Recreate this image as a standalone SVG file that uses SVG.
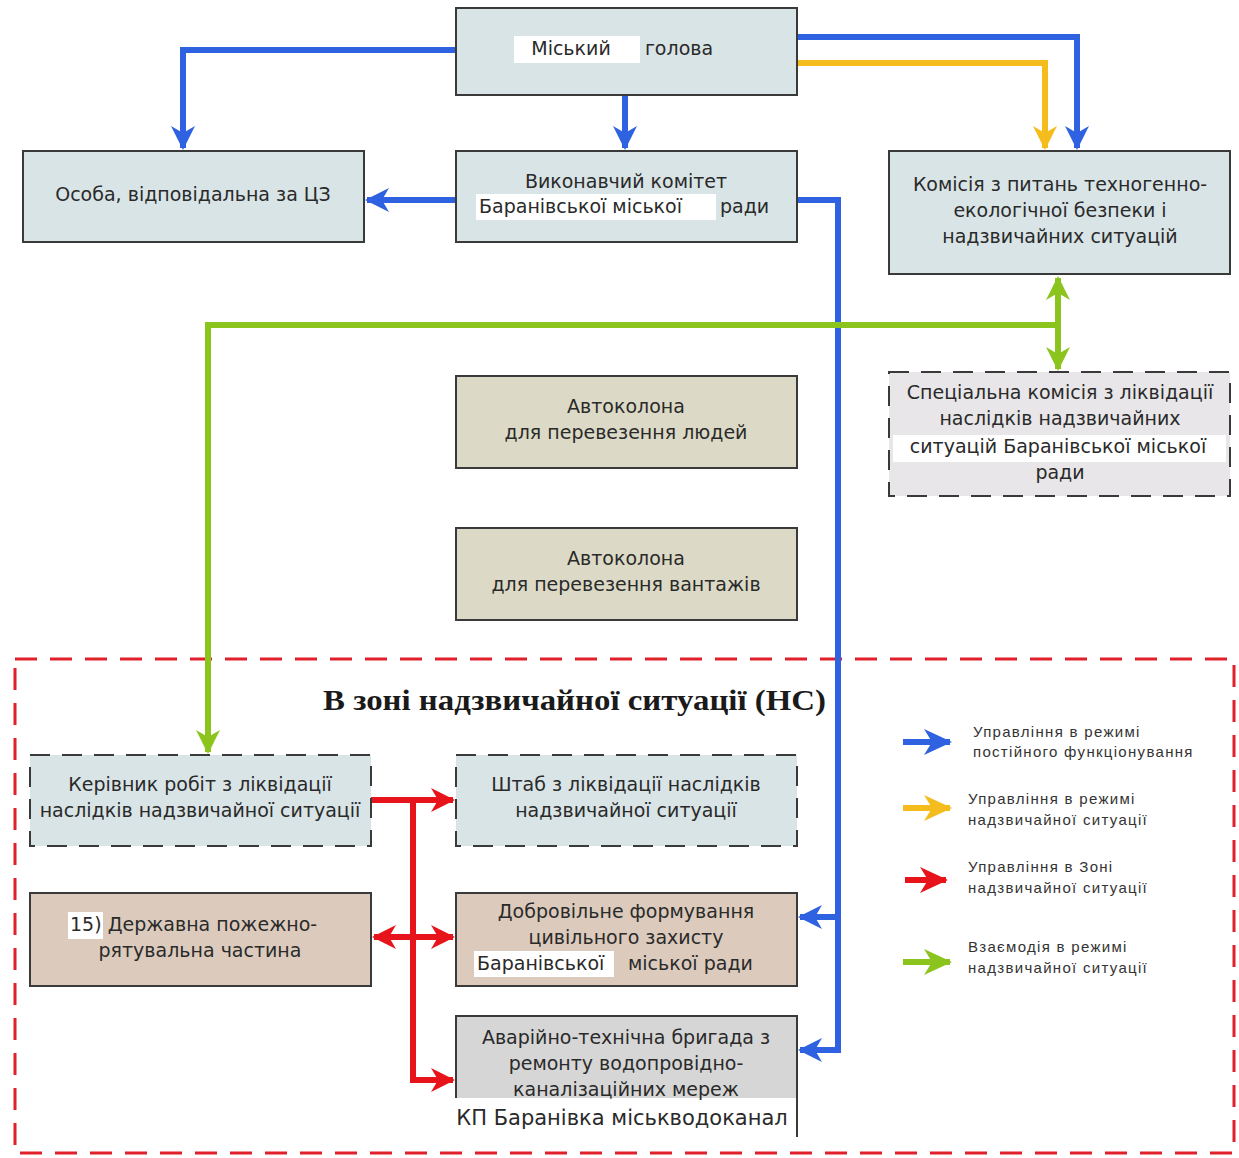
<svg xmlns="http://www.w3.org/2000/svg" width="1239" height="1158" viewBox="0 0 1239 1158">
<style>
.box{stroke:#3a3a3a;stroke-width:2}
.blue{fill:#d9e4e6}
.khaki{fill:#dcdac6}
.tan{fill:#dccabd}
.grey{fill:#d6d6d6}
.dash{stroke-dasharray:20 12}
.t{font-family:"DejaVu Sans","Liberation Sans",sans-serif;font-size:19px;fill:#2a2a2a;text-anchor:middle}
.lg{font-family:"Liberation Sans",sans-serif;font-size:15px;letter-spacing:1.3px;fill:#333}
.ln{fill:none;stroke-width:6}
.b{stroke:#2f62e0}
.y{stroke:#f4bc1c}
.r{stroke:#e8141c}
.g{stroke:#8cc41e}
.hl{fill:#ffffff}
</style>
<defs>
<marker id="ab" markerUnits="userSpaceOnUse" markerWidth="26" markerHeight="26" refX="22" refY="13" orient="auto"><path d="M0,1 L24,13 L0,25 L7,13 Z" fill="#2f62e0"/></marker>
<marker id="ay" markerUnits="userSpaceOnUse" markerWidth="26" markerHeight="26" refX="22" refY="13" orient="auto"><path d="M0,1 L24,13 L0,25 L7,13 Z" fill="#f4bc1c"/></marker>
<marker id="ar" markerUnits="userSpaceOnUse" markerWidth="26" markerHeight="26" refX="22" refY="13" orient="auto"><path d="M0,1 L24,13 L0,25 L7,13 Z" fill="#e8141c"/></marker>
<marker id="ars" markerUnits="userSpaceOnUse" markerWidth="26" markerHeight="26" refX="22" refY="13" orient="auto-start-reverse"><path d="M0,1 L24,13 L0,25 L7,13 Z" fill="#e8141c"/></marker>
<marker id="ag" markerUnits="userSpaceOnUse" markerWidth="26" markerHeight="26" refX="22" refY="13" orient="auto"><path d="M0,1 L24,13 L0,25 L7,13 Z" fill="#8cc41e"/></marker>
<marker id="ags" markerUnits="userSpaceOnUse" markerWidth="26" markerHeight="26" refX="22" refY="13" orient="auto-start-reverse"><path d="M0,1 L24,13 L0,25 L7,13 Z" fill="#8cc41e"/></marker>
<marker id="lb" markerUnits="userSpaceOnUse" markerWidth="30" markerHeight="30" refX="26" refY="15" orient="auto"><path d="M0,2 L28,15 L0,28 L8,15 Z" fill="#2f62e0"/></marker>
<marker id="ly" markerUnits="userSpaceOnUse" markerWidth="30" markerHeight="30" refX="26" refY="15" orient="auto"><path d="M0,2 L28,15 L0,28 L8,15 Z" fill="#f4bc1c"/></marker>
<marker id="lr" markerUnits="userSpaceOnUse" markerWidth="30" markerHeight="30" refX="26" refY="15" orient="auto"><path d="M0,2 L28,15 L0,28 L8,15 Z" fill="#e8141c"/></marker>
<marker id="lgm" markerUnits="userSpaceOnUse" markerWidth="30" markerHeight="30" refX="26" refY="15" orient="auto"><path d="M0,2 L28,15 L0,28 L8,15 Z" fill="#8cc41e"/></marker>
</defs>
<rect width="1239" height="1158" fill="#ffffff"/>

<g id="zone">
<rect x="15" y="659" width="1219" height="494" fill="none" stroke="#e0202a" stroke-width="3" stroke-dasharray="22 13"/>
<text x="323" y="710" textLength="503" lengthAdjust="spacingAndGlyphs" font-family="Liberation Serif,serif" font-weight="bold" font-size="29" fill="#1a1a1a">В зоні надзвичайної ситуації (НС)</text>
</g>

<g id="connectors">
<path class="ln b" d="M456,50 H183 V148" marker-end="url(#ab)"/>
<path class="ln b" d="M625,95 V148" marker-end="url(#ab)"/>
<path class="ln b" d="M797,37 H1077 V148" marker-end="url(#ab)"/>
<path class="ln y" d="M797,63 H1045 V148" marker-end="url(#ay)"/>
<path class="ln b" d="M456,200 H367" marker-end="url(#ab)"/>
<path class="ln b" d="M797,200 H838 V1050 H800" marker-end="url(#ab)"/>
<path class="ln b" d="M838,917 H800" marker-end="url(#ab)"/>
<path class="ln g" d="M1058,278 V369" marker-start="url(#ags)" marker-end="url(#ag)"/>
<path class="ln g" d="M1058,325 H208 V752" marker-end="url(#ag)"/>
<path class="ln r" d="M371,800 H453" marker-end="url(#ar)"/>
<path class="ln r" d="M413,800 V1080 H453" marker-end="url(#ar)"/>
<path class="ln r" d="M374,937 H453" marker-start="url(#ars)" marker-end="url(#ar)"/>
</g>

<g id="n-mayor">
<rect class="box blue" x="456" y="8" width="341" height="87"/>
<rect class="hl" x="514" y="36" width="126" height="27"/>
<text class="t" x="571" y="55">Міський</text>
<text class="t" x="679" y="55">голова</text>
</g>
<g id="n-osoba">
<rect class="box blue" x="23" y="151" width="341" height="91"/>
<text class="t" x="193" y="201">Особа, відповідальна за ЦЗ</text>
</g>
<g id="n-vykonkom">
<rect class="box blue" x="456" y="151" width="341" height="91"/>
<rect class="hl" x="476" y="194" width="240" height="26"/>
<text class="t" x="626" y="188">Виконавчий комітет</text>
<text class="t" x="479" y="213" style="text-anchor:start">Баранівської міської</text>
<text class="t" x="720" y="213" style="text-anchor:start">ради</text>
</g>
<g id="n-komisiya">
<rect class="box blue" x="889" y="151" width="341" height="123"/>
<text class="t" x="1060" y="191">Комісія з питань техногенно-</text>
<text class="t" x="1060" y="217">екологічної безпеки і</text>
<text class="t" x="1060" y="243">надзвичайних ситуацій</text>
</g>
<g id="n-special">
<rect class="box dash" x="889" y="372" width="341" height="124" fill="#e8e6e8"/>
<rect class="hl" x="893" y="435" width="333" height="27"/>
<text class="t" x="1060" y="399">Спеціальна комісія з ліквідації</text>
<text class="t" x="1060" y="425">наслідків  надзвичайних</text>
<text class="t" x="1058" y="453">ситуацій Баранівської міської</text>
<text class="t" x="1060" y="479">ради</text>
</g>
<g id="n-auto1">
<rect class="box khaki" x="456" y="376" width="341" height="92"/>
<text class="t" x="626" y="413">Автоколона</text>
<text class="t" x="626" y="439">для перевезення людей</text>
</g>
<g id="n-auto2">
<rect class="box khaki" x="456" y="528" width="341" height="92"/>
<text class="t" x="626" y="565">Автоколона</text>
<text class="t" x="626" y="591">для перевезення вантажів</text>
</g>
<g id="n-kerivnyk">
<rect class="box blue dash" x="30" y="755" width="341" height="91"/>
<text class="t" x="200" y="791">Керівник робіт з ліквідації</text>
<text class="t" x="200" y="817">наслідків надзвичайної ситуації</text>
</g>
<g id="n-shtab">
<rect class="box blue dash" x="456" y="755" width="341" height="91"/>
<text class="t" x="626" y="791">Штаб з ліквідації наслідків</text>
<text class="t" x="626" y="817">надзвичайної ситуації</text>
</g>
<g id="n-dprch">
<rect class="box tan" x="30" y="893" width="341" height="93"/>
<rect class="hl" x="68" y="912" width="35" height="27"/>
<text class="t" x="70" y="931" style="text-anchor:start">15) Державна пожежно-</text>
<text class="t" x="200" y="957">рятувальна частина</text>
</g>
<g id="n-dobro">
<rect class="box tan" x="456" y="893" width="341" height="93"/>
<rect class="hl" x="474" y="951" width="140" height="26"/>
<text class="t" x="477" y="970" style="text-anchor:start">Баранівської</text>
<text class="t" x="626" y="918">Добровільне формування</text>
<text class="t" x="626" y="944">цивільного захисту</text>
<text class="t" x="628" y="970" style="text-anchor:start">міської ради</text>
</g>
<g id="n-avariyna">
<rect class="grey" x="456" y="1016" width="341" height="82"/>
<path d="M456,1098 V1016 H797 V1137" fill="none" stroke="#3a3a3a" stroke-width="2"/>
<text class="t" x="626" y="1044">Аварійно-технічна бригада з</text>
<text class="t" x="626" y="1070">ремонту водопровідно-</text>
<text class="t" x="626" y="1096">каналізаційних мереж</text>
<text class="t" x="622" y="1125" style="font-size:21px">КП Баранівка міськводоканал</text>
</g>

<g id="legend">
<path class="ln b" d="M903,742 H950" marker-end="url(#lb)"/>
<text class="lg" x="973" y="737">Управління в режимі</text>
<text class="lg" x="973" y="757">постійного функціонування</text>
<path class="ln y" d="M903,808 H950" marker-end="url(#ly)"/>
<text class="lg" x="968" y="804">Управління в режимі</text>
<text class="lg" x="968" y="825">надзвичайної ситуації</text>
<path class="ln r" d="M905,880 H946" marker-end="url(#lr)"/>
<text class="lg" x="968" y="872">Управління в Зоні</text>
<text class="lg" x="968" y="893">надзвичайної ситуації</text>
<path class="ln g" d="M903,962 H950" marker-end="url(#lgm)"/>
<text class="lg" x="968" y="952">Взаємодія в режимі</text>
<text class="lg" x="968" y="973">надзвичайної ситуації</text>
</g>
</svg>
